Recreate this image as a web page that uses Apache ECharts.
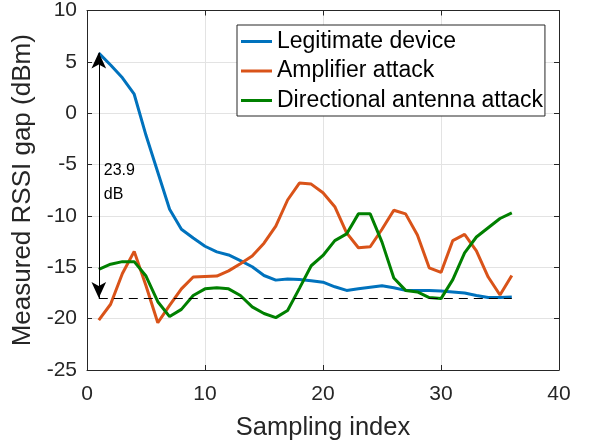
<!DOCTYPE html>
<html>
<head>
<meta charset="utf-8">
<script src="https://cdn.jsdelivr.net/npm/echarts@6/dist/echarts.min.js"></script>
<style>
html,body{margin:0;padding:0;background:#fff;}
#c{width:590px;height:446px;}
</style>
</head>
<body>
<div id="c"></div>
<script>
const samplingIndex = [1,2,3,4,5,6,7,8,9,10,11,12,13,14,15,16,17,18,19,20,21,22,23,24,25,26,27,28,29,30,31,32,33,34,35,36];
const legitimate = [5.85,4.7,3.45,1.85,-2.15,-5.75,-9.35,-11.3,-12.15,-12.95,-13.5,-13.8,-14.35,-14.95,-15.8,-16.25,-16.15,-16.2,-16.3,-16.45,-16.9,-17.25,-17.1,-16.95,-16.8,-17.0,-17.25,-17.25,-17.25,-17.3,-17.4,-17.5,-17.75,-17.95,-17.95,-17.9];
const amplifier = [-20.15,-18.6,-15.6,-13.45,-16.8,-20.4,-18.7,-17.1,-15.95,-15.9,-15.85,-15.35,-14.65,-13.9,-12.65,-11.0,-8.45,-6.8,-6.9,-7.75,-9.1,-11.65,-13.1,-13.0,-11.3,-9.45,-9.8,-11.85,-15.05,-15.5,-12.4,-11.8,-13.4,-15.95,-17.7,-15.8];
const directional = [-15.2,-14.7,-14.45,-14.45,-15.85,-18.35,-19.8,-19.1,-17.75,-17.1,-17.0,-17.1,-17.75,-18.85,-19.5,-19.9,-19.2,-17.05,-14.85,-13.85,-12.4,-11.75,-9.8,-9.8,-12.55,-16.05,-17.25,-17.4,-17.95,-18.05,-16.2,-13.6,-12.05,-11.15,-10.25,-9.7];
const seriesNames = ['Legitimate device','Amplifier attack','Directional antenna attack'];
const xTicks = {min:0, max:40, interval:10};
const yTicks = {min:-25, max:10, interval:5};
const gapTop = 5.9, gapBottom = -18.0, gapLabel = '23.9\ndB';

const FONT = 'Liberation Sans';
const AX = '#262626';
const colors = ['#0072BD','#D95319','#008000'];

function pairs(arr){ return arr.map((v,i)=>[samplingIndex[i], v]); }

const chart = echarts.init(document.getElementById('c'), null, {renderer:'canvas'});
const boxAxis = {
  axisLine:{show:true, onZero:false, lineStyle:{color:AX, width:1}},
  axisTick:{show:true, inside:true, length:5, lineStyle:{color:AX}},
  axisLabel:{show:false}, splitLine:{show:false}
};
chart.setOption({
  animation:false,
  textStyle:{fontFamily:FONT},
  grid:{left:87, right:31, top:10, bottom:74, containLabel:false},
  xAxis:[{
    type:'value', min:xTicks.min, max:xTicks.max, interval:xTicks.interval,
    name:'Sampling index', nameLocation:'middle', nameGap:45,
    nameTextStyle:{fontSize:25.5, color:AX, fontFamily:FONT},
    axisLine:{show:true, onZero:false, lineStyle:{color:AX, width:1}},
    axisTick:{show:true, inside:true, length:5, lineStyle:{color:AX}},
    axisLabel:{fontSize:21, color:AX, margin:14, fontFamily:FONT},
    splitLine:{show:true, lineStyle:{color:'#e3e3e3', width:1}}
  },{
    type:'value', position:'top', min:xTicks.min, max:xTicks.max, interval:xTicks.interval, ...boxAxis
  }],
  yAxis:[{
    type:'value', min:yTicks.min, max:yTicks.max, interval:yTicks.interval,
    name:'Measured RSSI gap (dBm)', nameLocation:'middle', nameGap:42,
    nameTextStyle:{fontSize:26, color:AX, fontFamily:FONT},
    axisLine:{show:true, onZero:false, lineStyle:{color:AX, width:1}},
    axisTick:{show:true, inside:true, length:5, lineStyle:{color:AX}},
    axisLabel:{fontSize:21, color:AX, margin:10, fontFamily:FONT},
    splitLine:{show:true, lineStyle:{color:'#e3e3e3', width:1}}
  },{
    type:'value', position:'right', min:yTicks.min, max:yTicks.max, interval:yTicks.interval, ...boxAxis
  }],
  legend:{
    show:true, orient:'vertical', left:237, top:25,
    data:seriesNames,
    itemWidth:31, itemHeight:3, itemGap:6.5,
    icon:'rect',
    padding:[5,2,4,4],
    borderColor:AX, borderWidth:1, backgroundColor:'#fff',
    textStyle:{fontSize:23, color:'#000', fontFamily:FONT}
  },
  series:[
    {name:seriesNames[0], type:'line', data:pairs(legitimate), showSymbol:false, symbol:'none',
     lineStyle:{color:colors[0], width:3}, itemStyle:{color:colors[0]}, z:3},
    {name:seriesNames[1], type:'line', data:pairs(amplifier), showSymbol:false, symbol:'none',
     lineStyle:{color:colors[1], width:3}, itemStyle:{color:colors[1]}, z:3},
    {name:seriesNames[2], type:'line', data:pairs(directional), showSymbol:false, symbol:'none',
     lineStyle:{color:colors[2], width:3}, itemStyle:{color:colors[2]}, z:3},
    {name:'annot', type:'line', data:[], symbol:'none', silent:true, z:4,
     markLine:{silent:true, animation:false, label:{show:false},
       data:[
         [{coord:[samplingIndex[0], gapBottom], symbol:'none', lineStyle:{type:[9,6], color:'#000', width:1}},
          {coord:[samplingIndex[samplingIndex.length-1], gapBottom], symbol:'none'}],
         [{coord:[samplingIndex[0], gapTop], symbol:'arrow', symbolSize:[11,16], lineStyle:{type:'solid', color:'#000', width:1}},
          {coord:[samplingIndex[0], gapBottom], symbol:'arrow', symbolSize:[11,16]}]
       ]},
     markPoint:{silent:true, symbol:'circle', symbolSize:0,
       data:[{coord:[1.42, -6.8], label:{show:true, formatter:gapLabel, position:'right', distance:0,
         fontSize:16, lineHeight:24, color:'#000', fontFamily:FONT, align:'left'}}]}
    }
  ]
});
</script>
</body>
</html>
